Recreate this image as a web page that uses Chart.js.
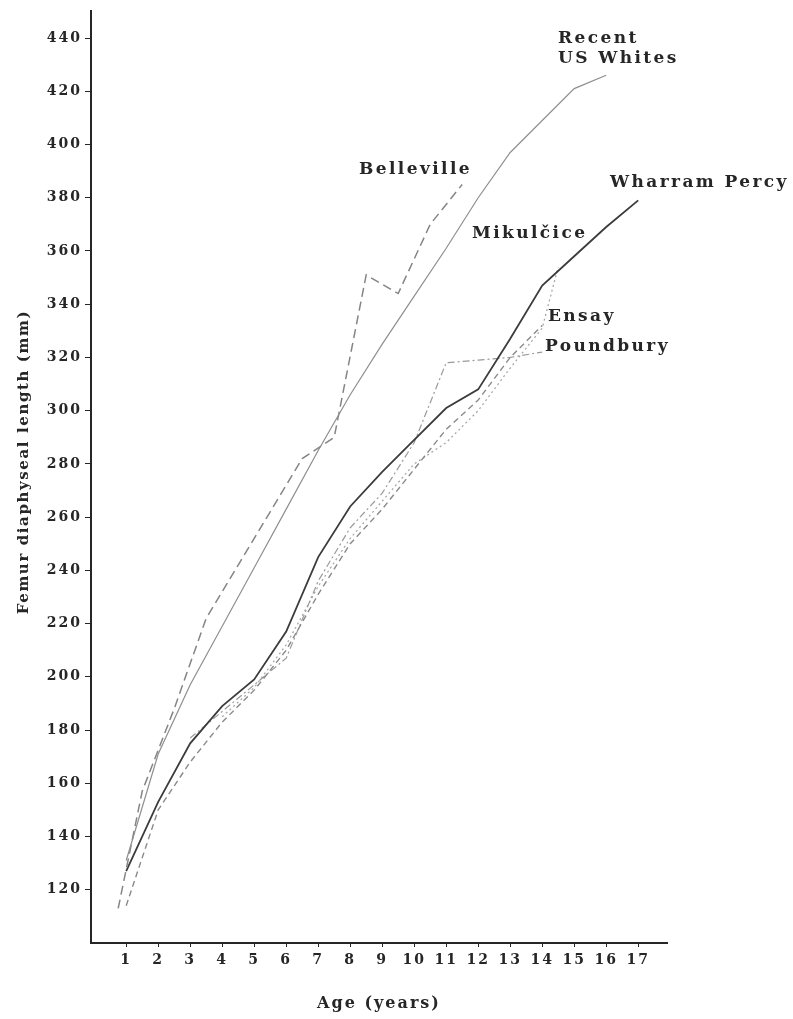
<!DOCTYPE html>
<html>
<head>
<meta charset="utf-8">
<script src="https://cdn.jsdelivr.net/npm/chart.js@4.4.1/dist/chart.umd.min.js"></script>
<style>
  html, body { margin: 0; padding: 0; background: #fff; }
  canvas { display: block; }
</style>
</head>
<body>
<canvas id="femurChart" width="793" height="1019"></canvas>
<script>
// tick waarden op de assen
const ageTicks = [1, 2, 3, 4, 5, 6, 7, 8, 9, 10, 11, 12, 13, 14, 15, 16, 17];
const lengthTicks = [120, 140, 160, 180, 200, 220, 240, 260, 280, 300, 320, 340, 360, 380, 400, 420, 440];

// femurlengte (mm) per leeftijd (jaren)
const usWhitesAges = [1, 2, 3, 4, 5, 6, 7, 8, 9, 10, 11, 12, 13, 14, 15, 16];
const usWhitesLength = [131, 171, 197, 219, 241, 263, 285, 306, 325, 343, 361, 380, 397, 409, 421, 426];

const bellevilleAges = [0.75, 1.5, 2.5, 3.5, 4.5, 5.5, 6.5, 7.5, 8.5, 9.5, 10.5, 11.5];
const bellevilleLength = [113, 157, 188, 222, 242, 262, 282, 290, 351, 344, 370, 385];

const wharramAges = [1, 2, 3, 4, 5, 6, 7, 8, 9, 10, 11, 12, 13, 14, 15, 16, 17];
const wharramLength = [127, 153, 175, 189, 199, 217, 245, 264, 277, 289, 301, 308, 327, 347, 358, 369, 379];

const ensayAges = [1, 2, 3, 4, 5, 6, 7, 8, 9, 10, 11, 12, 13, 14];
const ensayLength = [114, 150, 168, 183, 195, 210, 231, 250, 263, 278, 293, 304, 320, 332];

const poundburyAges = [3, 4, 5, 6, 7, 8, 9, 10, 11, 12, 13, 14];
const poundburyLength = [177, 187, 197, 207, 236, 256, 269, 288, 318, 319, 320, 322];

const mikulciceAges = [4, 5, 6, 7, 8, 9, 10, 11, 12, 13, 14, 14.5];
const mikulciceLength = [185, 196, 212, 234, 252, 266, 280, 288, 300, 316, 331, 354];

const serif = '"DejaVu Serif", "Liberation Serif", serif';
const ink = '#262626';

function points(ages, lengths) {
  return ages.map((a, i) => ({ x: a, y: lengths[i] }));
}

function series(label, ages, lengths, color, width, dash) {
  return {
    label: label,
    data: points(ages, lengths),
    showLine: true,
    borderColor: color,
    borderWidth: width,
    borderDash: dash,
    pointRadius: 0,
    fill: false,
    tension: 0
  };
}

// namen bij de lijnen
const lineLabels = [
  { text: 'Recent', x: 558, y: 39 },
  { text: 'US Whites', x: 558, y: 59 },
  { text: 'Belleville', x: 359, y: 170 },
  { text: 'Wharram Percy', x: 610, y: 183 },
  { text: 'Mikulčice', x: 472, y: 234 },
  { text: 'Ensay', x: 548, y: 317 },
  { text: 'Poundbury', x: 545, y: 347 }
];

const yTitle = { text: 'Femur diaphyseal length (mm)', x: 24, y: 462 };

const labelPlugin = {
  id: 'lineLabels',
  beforeDraw(chart) {
    chart.ctx.letterSpacing = '2px';
  },
  afterDraw(chart) {
    const ctx = chart.ctx;
    ctx.save();
    ctx.font = 'bold 17px ' + serif;
    ctx.letterSpacing = '2.4px';
    ctx.fillStyle = ink;
    ctx.textAlign = 'left';
    ctx.textBaseline = 'middle';
    lineLabels.forEach(l => ctx.fillText(l.text, l.x, l.y));

    // astitel links, gedraaid
    ctx.font = 'bold 15px ' + serif;
    ctx.letterSpacing = '1.6px';
    ctx.textAlign = 'center';
    ctx.translate(yTitle.x, yTitle.y);
    ctx.rotate(-Math.PI / 2);
    ctx.fillText(yTitle.text, 0, 0);
    ctx.restore();
  }
};

new Chart(document.getElementById('femurChart'), {
  type: 'scatter',
  data: {
    datasets: [
      series('Recent US Whites', usWhitesAges, usWhitesLength, '#8f8f8f', 1.2, []),
      series('Belleville', bellevilleAges, bellevilleLength, '#858585', 1.5, [9, 5]),
      series('Wharram Percy', wharramAges, wharramLength, '#3c3c3c', 1.8, []),
      series('Ensay', ensayAges, ensayLength, '#8a8a8a', 1.4, [6, 4]),
      series('Poundbury', poundburyAges, poundburyLength, '#9a9a9a', 1.2, [7, 3, 2, 3]),
      series('Mikulčice', mikulciceAges, mikulciceLength, '#a8a8a8', 1.3, [2, 3])
    ]
  },
  options: {
    responsive: false,
    animation: false,
    layout: { padding: { top: 7, right: 126, left: 0, bottom: 0 } },
    plugins: { legend: { display: false }, tooltip: { enabled: false } },
    scales: {
      x: {
        type: 'linear',
        min: -0.1,
        max: 17.9,
        afterBuildTicks: s => { s.ticks = ageTicks.map(v => ({ value: v })); },
        afterFit: s => { s.height = 76; },
        border: { display: true, color: ink, width: 2 },
        grid: { display: true, drawOnChartArea: false, drawTicks: true, tickLength: 4, color: ink },
        ticks: { color: ink, padding: 5, maxRotation: 0, font: { family: serif, size: 14, weight: 'bold' } },
        title: {
          display: true,
          text: 'Age (years)',
          color: ink,
          padding: { top: 0, bottom: 6 },
          font: { family: serif, size: 16, weight: 'bold' }
        }
      },
      y: {
        type: 'linear',
        min: 100,
        max: 450,
        afterBuildTicks: s => { s.ticks = lengthTicks.map(v => ({ value: v })); },
        afterFit: s => { s.width = 91; },
        border: { display: true, color: ink, width: 2 },
        grid: { display: true, drawOnChartArea: false, drawTicks: true, tickLength: 6, color: ink },
        ticks: { color: ink, padding: 3, font: { family: serif, size: 14, weight: 'bold' } },
        title: { display: false }
      }
    }
  },
  plugins: [labelPlugin]
});
</script>
</body>
</html>
